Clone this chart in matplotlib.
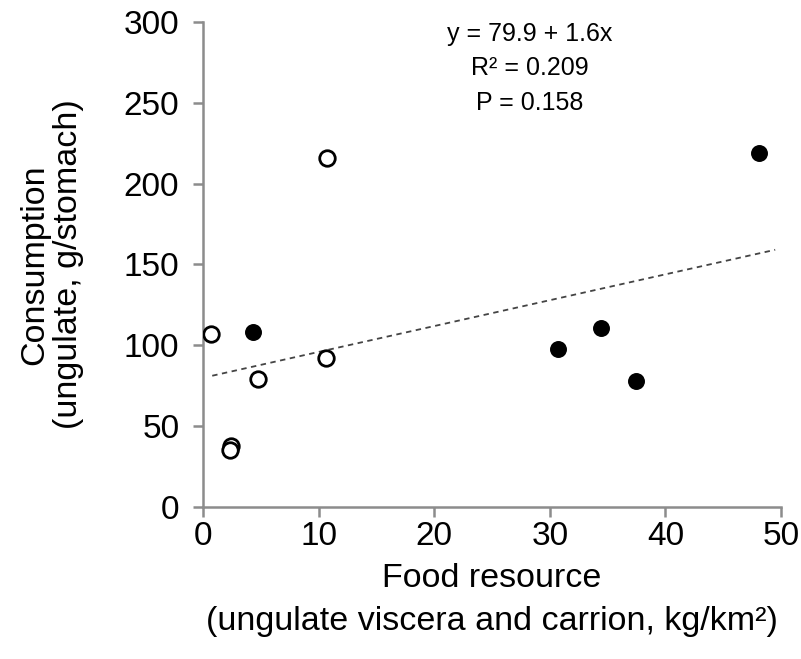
import numpy as np
import matplotlib
matplotlib.use("Agg")
import matplotlib.pyplot as plt

plt.rcParams['font.family'] = ['Liberation Sans', 'DejaVu Sans']

# open circles
open_x = [0.7, 10.7, 4.8, 10.6, 2.4, 2.3]
open_y = [107, 216, 79, 92, 38, 35]
# filled circles
fill_x = [4.3, 48.1, 30.7, 34.4, 37.5]
fill_y = [108, 219, 98, 111, 78]

a, b = 79.9, 1.6
line_x = np.array([0.8, 49.5])

fig = plt.figure(figsize=(8.01, 6.59), dpi=100)
ax = fig.add_axes([0.2534, 0.2307, 0.975 - 0.2534, 0.9666 - 0.2307])

ax.plot(line_x, a + b * line_x, linestyle=(0, (3, 2.5)), color='#444444', linewidth=1.3, zorder=1)
ax.scatter(open_x, open_y, s=125, facecolors='white', edgecolors='black', linewidths=2, zorder=3)
ax.scatter(fill_x, fill_y, s=125, facecolors='black', edgecolors='black', linewidths=1, zorder=3)

ax.set_xlim(0, 50)
ax.set_ylim(0, 300)
ax.set_xticks([0, 10, 20, 30, 40, 50])
ax.set_yticks([0, 50, 100, 150, 200, 250, 300])
for s in ['top', 'right']:
    ax.spines[s].set_visible(False)
for s in ['left', 'bottom']:
    ax.spines[s].set_color('#8c8c8c')
    ax.spines[s].set_linewidth(1.8)
ax.tick_params(colors='#8c8c8c', width=1.8, length=7, labelcolor='black', labelsize=24)
ax.tick_params(axis='x', pad=3)
ax.tick_params(axis='y', pad=10)

ax.set_xlabel('Food resource\n(ungulate viscera and carrion, kg/km²)', fontsize=24.5, linespacing=1.5)
ax.set_ylabel('Consumption\n(ungulate, g/stomach)', fontsize=24.5, linespacing=1.15)
ax.xaxis.set_label_coords(0.5, -0.115)
ax.yaxis.set_label_coords(-0.205, 0.5)

ax.text(0.565, 1.0, 'y = 79.9 + 1.6x\nR² = 0.209\nP = 0.158', transform=ax.transAxes,
        ha='center', va='top', fontsize=18, linespacing=1.55)

fig.savefig('out.png', dpi=100)
